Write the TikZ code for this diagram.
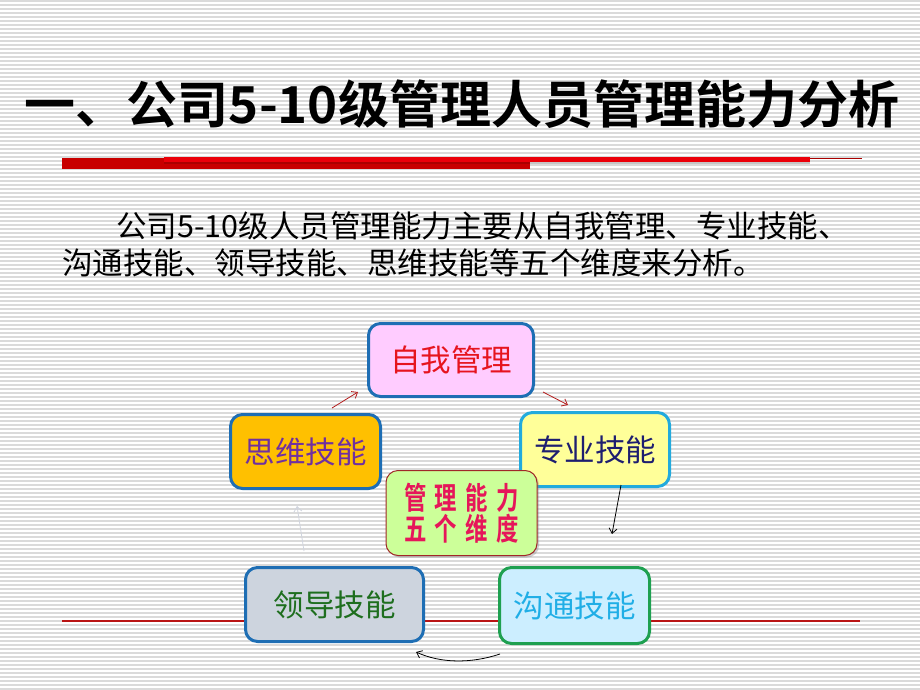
\documentclass[tikz,border=0pt]{standalone}
\usepackage{fontspec}
\newfontfamily\cjk{Noto Sans CJK SC}
\newfontfamily\cjkb{Noto Sans CJK SC Bold}
\usetikzlibrary{arrows.meta,shadows}
\definecolor{stripe}{RGB}{218,218,218}
\definecolor{barred}{RGB}{200,0,0}
\definecolor{brightred}{RGB}{235,0,10}
\definecolor{darkbar}{RGB}{170,0,0}
\definecolor{lineRed}{RGB}{185,20,20}
\definecolor{bordBlue}{RGB}{30,110,180}
\definecolor{bordCyan}{RGB}{34,170,221}
\definecolor{bordGreen}{RGB}{30,160,80}
\definecolor{bordBrown}{RGB}{160,40,40}
\definecolor{fPink}{RGB}{255,204,255}
\definecolor{fOrange}{RGB}{255,192,0}
\definecolor{fYellow}{RGB}{255,255,153}
\definecolor{fGreen}{RGB}{204,255,153}
\definecolor{fGray}{RGB}{205,212,222}
\definecolor{fCyan}{RGB}{204,238,255}
\definecolor{tRed}{RGB}{230,20,30}
\definecolor{tPurple}{RGB}{112,48,160}
\definecolor{tNavy}{RGB}{30,30,112}
\definecolor{tCrimson}{RGB}{230,22,90}
\definecolor{tGreen}{RGB}{30,110,30}
\definecolor{tCyan}{RGB}{32,174,230}
\definecolor{arrRed}{RGB}{180,30,30}
\definecolor{arrGray}{RGB}{208,212,222}
\tikzset{
  box/.style={draw, line width=3pt, rounded corners=12pt, inner sep=0pt, align=center,
    font=\cjk\fontsize{30.5}{36}\selectfont},
  conn/.style={line width=0.8pt, -{Straight Barb[length=5pt,width=8pt]}},
}
\begin{document}
\begin{tikzpicture}[x=1pt,y=-1pt]
\useasboundingbox (0,0) rectangle (920,690);
\fill[white] (0,0) rectangle (920,690);
\foreach \yy in {1,5,...,689} {\draw[stripe, line width=1.3pt] (0,\yy) -- (920,\yy);}
% title
\node[inner sep=0pt, font=\cjkb\fontsize{51}{60}\selectfont] (title) at (462,104) {一、公司5-10级管理人员管理能力分析};
% red bars
\fill[barred] (62,158) rectangle (530,169);
\fill[gray!45] (530,161.5) rectangle (810,163.5);
\fill[darkbar] (164,161) rectangle (530,163.5);
\fill[brightred] (164,157) rectangle (810,161.5);
\draw[darkbar, line width=1pt] (810,158.3) -- (862,158.3);
% body text
\node[anchor=west, inner sep=0pt, font=\cjk\fontsize{30.5}{36}\selectfont] (body1) at (116,226) {公司5-10级人员管理能力主要从自我管理、专业技能、};
\node[anchor=west, inner sep=0pt, font=\cjk\fontsize{30.5}{36}\selectfont] (body2) at (62,263) {沟通技能、领导技能、思维技能等五个维度来分析。};
% bottom line
\draw[lineRed, line width=1.1pt] (62,621) -- (860,621);
% boxes
\node[box, draw=bordBlue, fill=fPink, text=tRed, minimum width=165pt, minimum height=73pt] (ziwo) at (451,360) {自我管理};
\node[box, draw=bordBlue, fill=fOrange, text=tPurple, minimum width=150pt, minimum height=74pt] (siwei) at (305.5,451.5) {思维技能};
\node[box, draw=bordCyan, fill=fYellow, text=tNavy, minimum width=149pt, minimum height=74pt] (zhuanye) at (595,449.5) {专业技能};
\node[box, draw=bordBlue, fill=fGray, text=tGreen, minimum width=178pt, minimum height=74pt] (lingdao) at (334.5,604.5) {领导技能};
\node[box, draw=bordGreen, fill=fCyan, text=tCyan, minimum width=150pt, minimum height=76pt] (goutong) at (574.5,605.5) {沟通技能};
\node[draw=bordBrown, line width=1pt, fill=fGreen, rounded corners=12pt, inner sep=0pt,
  minimum width=151pt, minimum height=85pt, align=center, text=tCrimson,
  font=\cjkb\fontsize{28}{33}\selectfont,
  drop shadow={shadow xshift=2pt, shadow yshift=-2pt, opacity=0.35}] (core) at (461.5,513)
  {\scalebox{0.8}[1.1]{管\hspace{10.5pt}理\hspace{10.5pt}能\hspace{10.5pt}力}\\[-2pt]\scalebox{0.8}[1.1]{五\hspace{10.5pt}个\hspace{10.5pt}维\hspace{10.5pt}度}};
% connector end points
\coordinate (a1) at (332,408); \coordinate (a2) at (358,392);
\coordinate (b1) at (543,392); \coordinate (b2) at (568,405);
\coordinate (c1) at (621,485); \coordinate (c2) at (612,534);
\coordinate (d1) at (500,654); \coordinate (d2) at (416,652);
\coordinate (e1) at (304,551); \coordinate (e2) at (297,506);
\draw[conn, arrRed] (a1) -- (a2);
\draw[conn, arrRed] (b1) -- (b2);
\draw[conn, black] (c1) -- (c2);
\draw[conn, black] (d1) .. controls (470,664) and (440,663) .. (d2);
\draw[conn, arrGray] (e1) -- (e2);
\end{tikzpicture}
\end{document}
